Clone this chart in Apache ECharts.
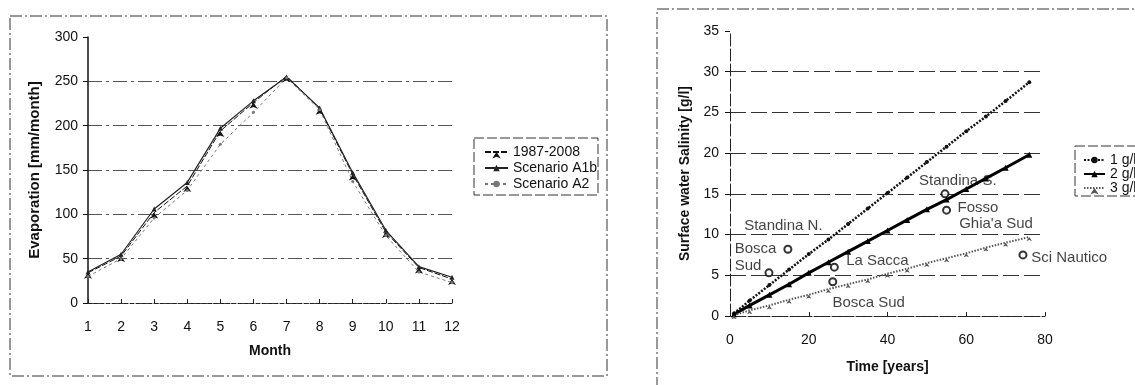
<!DOCTYPE html>
<html><head><meta charset="utf-8">
<script src="https://cdn.jsdelivr.net/npm/echarts@6/dist/echarts.min.js"></script>
<style>html,body{margin:0;padding:0;background:#fff}#c{width:1135px;height:385px}</style>
</head><body><div id="c"></div>
<script>
// ---- Left chart: monthly evaporation ----
const months = [1,2,3,4,5,6,7,8,9,10,11,12];
const evap1987 = [34, 53, 102, 132, 194, 226, 256, 219, 145, 80, 40, 27];
const evapA1b  = [35, 55, 106, 136, 197, 228, 255, 220, 147, 82, 41, 29];
const evapA2   = [30, 50, 96, 127, 179, 215, 254, 218, 137, 76, 35, 23];
const leftNames = ['1987-2008', 'Scenario A1b', 'Scenario A2'];

// ---- Right chart: surface water salinity ----
const years = [1, 5, 10, 15, 20, 25, 30, 35, 40, 45, 50, 55, 60, 65, 70, 76];
const sal1 = [0.3, 1.9, 3.8, 5.7, 7.6, 9.4, 11.3, 13.2, 15.1, 17.0, 18.9, 20.8, 22.7, 24.5, 26.4, 28.7];
const sal2 = [0.2, 1.3, 2.6, 3.9, 5.3, 6.6, 7.9, 9.2, 10.5, 11.8, 13.1, 14.3, 15.6, 16.9, 18.2, 19.8];
const sal3 = [0.1, 0.7, 1.3, 2.0, 2.6, 3.3, 3.9, 4.5, 5.2, 5.8, 6.5, 7.1, 7.7, 8.4, 9.0, 9.7];
const rightNames = ['1 g/l', '2 g/l', '3 g/l'];
const stationX = [14.7, 9.9, 26.1, 26.5, 54.6, 55.0, 74.4];
const stationY = [8.2, 5.3, 4.2, 6.0, 15.0, 13.0, 7.5];
const labelText = ['Standina N.', 'Bosca', 'Sud', 'La Sacca', 'Bosca Sud', 'Standina S.', 'Fosso', "Ghia'a Sud", 'Sci Nautico'];
const labelX = [3.6, 1.2, 1.2, 29.5, 26.0, 48.0, 57.8, 58.2, 76.5];
const labelY = [11.1, 8.2, 6.1, 6.8, 1.6, 16.6, 13.3, 11.3, 7.1];

const FONT = 'Liberation Sans';
const zip = (xs, ys) => xs.map((x, i) => [x, ys[i]]);

const chart = echarts.init(document.getElementById('c'), null, {renderer: 'canvas'});
const axisText = {color: '#111', fontFamily: FONT, fontSize: 14};
const nameText = {color: '#111', fontFamily: FONT, fontSize: 14, fontWeight: 'bold'};

chart.setOption({
  animation: false,
  backgroundColor: '#fff',
  textStyle: {fontFamily: FONT},
  graphic: [
    {type: 'rect', shape: {x: 10, y: 16, width: 597, height: 360}, style: {fill: 'none', stroke: '#333', lineWidth: 1, lineDash: [12, 3, 2, 3]}},
    {type: 'rect', shape: {x: 474, y: 138, width: 124, height: 57}, style: {fill: 'none', stroke: '#333', lineWidth: 1, lineDash: [10, 3]}},
    {type: 'rect', shape: {x: 657, y: 9, width: 600, height: 420}, style: {fill: 'none', stroke: '#333', lineWidth: 1, lineDash: [12, 3, 2, 3]}},
    {type: 'rect', shape: {x: 1075, y: 146, width: 100, height: 50}, style: {fill: 'none', stroke: '#333', lineWidth: 1, lineDash: [10, 3]}}
  ],
  legend: [
    {data: leftNames, orient: 'vertical', left: 479, top: 140, itemGap: 2, itemWidth: 23, itemHeight: 8,
     textStyle: {fontSize: 14, color: '#111', fontFamily: FONT}},
    {data: rightNames, orient: 'vertical', left: 1078, top: 148, itemGap: 0, itemWidth: 21, itemHeight: 8,
     textStyle: {fontSize: 14, color: '#111', fontFamily: FONT}}
  ],
  grid: [
    {left: 88, top: 37, width: 364, height: 266},
    {left: 730, top: 31, width: 315, height: 285}
  ],
  xAxis: [
    {gridIndex: 0, type: 'value', min: 1, max: 12, interval: 1,
     name: 'Month', nameLocation: 'middle', nameGap: 41, nameTextStyle: nameText,
     axisLine: {lineStyle: {color: '#222', type: 'dashed'}}, axisTick: {show: true, inside: true, length: 4, lineStyle: {color: '#222'}},
     axisLabel: Object.assign({margin: 17}, axisText), splitLine: {show: false}},
    {gridIndex: 1, type: 'value', min: 0, max: 80, interval: 20,
     name: 'Time [years]', nameLocation: 'middle', nameGap: 44, nameTextStyle: nameText,
     axisLine: {lineStyle: {color: '#222', type: 'dashed'}}, axisTick: {show: true, inside: true, length: 4, lineStyle: {color: '#222'}},
     axisLabel: Object.assign({margin: 17}, axisText), splitLine: {show: false}}
  ],
  yAxis: [
    {gridIndex: 0, type: 'value', min: 0, max: 300, interval: 50,
     name: 'Evaporation [mm/month]', nameLocation: 'middle', nameGap: 46, nameTextStyle: Object.assign({}, nameText, {fontSize: 15}),
     axisLine: {show: true, lineStyle: {color: '#111', width: 1.5}}, axisTick: {show: true, length: 5, lineStyle: {color: '#111'}},
     axisLabel: Object.assign({margin: 10}, axisText),
     splitLine: {show: true, showMaxLine: false, lineStyle: {color: '#555', type: [14, 4, 3, 4]}}},
    {gridIndex: 1, type: 'value', min: 0, max: 35, interval: 5,
     name: 'Surface water Salinity [g/l]', nameLocation: 'middle', nameGap: 38, nameTextStyle: nameText,
     axisLine: {show: true, lineStyle: {color: '#222', type: [12, 3]}}, axisTick: {show: true, length: 5, lineStyle: {color: '#111'}},
     axisLabel: Object.assign({margin: 11}, axisText),
     splitLine: {show: true, showMaxLine: false, lineStyle: {color: '#333', type: [16, 5]}}}
  ],
  series: [
    {name: leftNames[0], type: 'line', xAxisIndex: 0, yAxisIndex: 0, data: zip(months, evap1987),
     symbol: 'arrow', symbolSize: 6, itemStyle: {color: '#111'}, lineStyle: {color: '#111', width: 1, type: [6, 2]}},
    {name: leftNames[1], type: 'line', xAxisIndex: 0, yAxisIndex: 0, data: zip(months, evapA1b),
     symbol: 'triangle', symbolSize: 5, itemStyle: {color: '#222'}, lineStyle: {color: '#222', width: 1.2}},
    {name: leftNames[2], type: 'line', xAxisIndex: 0, yAxisIndex: 0, data: zip(months, evapA2),
     symbol: 'circle', symbolSize: 3, itemStyle: {color: '#777'}, lineStyle: {color: '#777', width: 1, type: [3, 3]}},

    {name: rightNames[0], type: 'line', xAxisIndex: 1, yAxisIndex: 1, data: zip(years, sal1),
     symbol: 'circle', symbolSize: 4, itemStyle: {color: '#111'}, lineStyle: {color: '#111', width: 2.5, type: [2, 1.5]}},
    {name: rightNames[1], type: 'line', xAxisIndex: 1, yAxisIndex: 1, data: zip(years, sal2),
     symbol: 'triangle', symbolSize: 6, itemStyle: {color: '#000'}, lineStyle: {color: '#000', width: 3}},
    {name: rightNames[2], type: 'line', xAxisIndex: 1, yAxisIndex: 1, data: zip(years, sal3),
     symbol: 'arrow', symbolSize: 4, itemStyle: {color: '#555'}, lineStyle: {color: '#555', width: 2, type: [1.5, 1.5]}},
    {name: 'stations', type: 'scatter', xAxisIndex: 1, yAxisIndex: 1, data: zip(stationX, stationY),
     symbol: 'emptyCircle', symbolSize: 7, itemStyle: {color: '#000', borderColor: '#000', borderWidth: 2}, z: 5},
    {name: 'labels', type: 'scatter', xAxisIndex: 1, yAxisIndex: 1, symbolSize: 0, silent: true, z: 6,
     data: labelText.map((t, i) => ({value: [labelX[i], labelY[i]], name: t})),
     label: {show: true, position: 'right', distance: 0, formatter: p => p.name, color: '#111', fontSize: 15, fontFamily: FONT}}
  ]
});
</script></body></html>
